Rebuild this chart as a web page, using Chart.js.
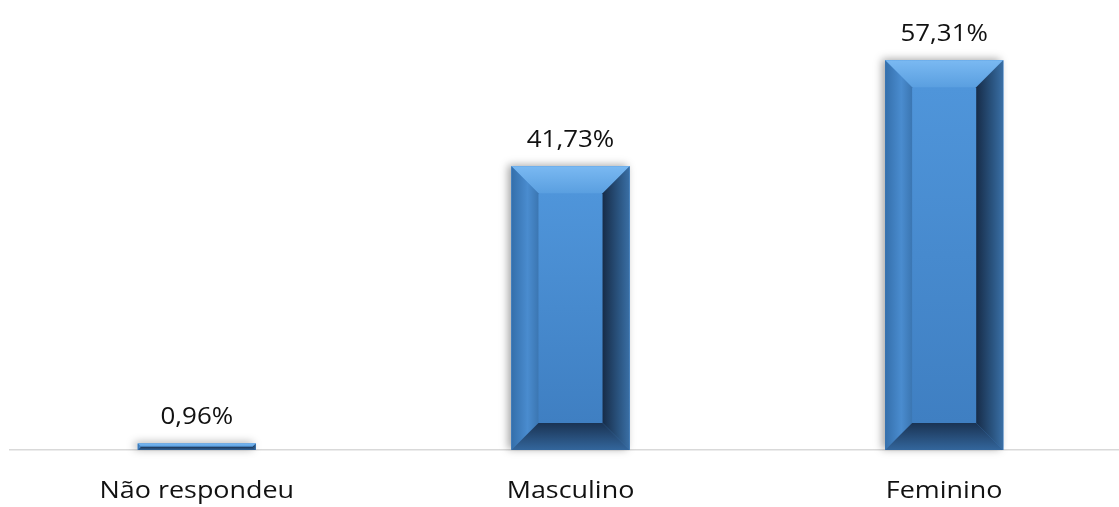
<!DOCTYPE html>
<html>
<head>
<meta charset="utf-8">
<script src="https://cdn.jsdelivr.net/npm/chart.js@4.4.1/dist/chart.umd.min.js"></script>
<style>
html,body{margin:0;padding:0;background:#fff;overflow:hidden;}
#wrap{width:1131px;height:507px;position:relative;}
</style>
</head>
<body>
<div id="wrap"><canvas id="c"></canvas></div>
<script>
const categories = ["Não respondeu", "Masculino", "Feminino"];
const values = [0.96, 41.73, 57.31];
const yMax = 60;

function fmt(v){ return v.toFixed(2).replace('.', ',') + '%'; }

function stretchedText(ctx, text, x, y, font, sx){
  ctx.save();
  ctx.font = font;
  ctx.textAlign = 'center';
  ctx.textBaseline = 'alphabetic';
  ctx.translate(x, y);
  ctx.scale(sx, 1);
  ctx.fillText(text, 0, 0);
  ctx.restore();
}

const shadowPlugin = {
  id: 'shadow',
  beforeDatasetsDraw(chart){
    const ctx = chart.ctx;
    const meta = chart.getDatasetMeta(0);
    ctx.save();
    meta.data.forEach(bar => {
      const x0 = bar.x - bar.width/2;
      ctx.shadowColor = 'rgba(0,0,0,0.35)';
      ctx.shadowBlur = 8;
      ctx.shadowOffsetX = -3;
      ctx.shadowOffsetY = -1;
      ctx.fillStyle = '#4a8fd6';
      ctx.fillRect(x0, bar.y, bar.width, bar.base - bar.y);
    });
    ctx.restore();
  }
};

const bevelPlugin = {
  id: 'bevel',
  afterDatasetsDraw(chart){
    const ctx = chart.ctx;
    const meta = chart.getDatasetMeta(0);
    meta.data.forEach(bar => {
      const x0 = bar.x - bar.width/2, x1 = bar.x + bar.width/2;
      const y0 = bar.y, y1 = bar.base;
      const h = y1 - y0, w = x1 - x0;
      const b = Math.min(27, h/2, w/2);
      const ix0 = x0 + b, ix1 = x1 - b, iy0 = y0 + b, iy1 = y1 - b;
      ctx.save();
      let g = ctx.createLinearGradient(0, iy0, 0, iy1);
      g.addColorStop(0, '#4f95da'); g.addColorStop(1, '#3f7fc2');
      ctx.fillStyle = g; ctx.fillRect(x0, y0, w, h);
      g = ctx.createLinearGradient(0, y0, 0, iy0);
      g.addColorStop(0, '#7ab9f2'); g.addColorStop(1, '#5a9fe0');
      ctx.fillStyle = g;
      ctx.beginPath(); ctx.moveTo(x0,y0); ctx.lineTo(x1,y0); ctx.lineTo(ix1,iy0); ctx.lineTo(ix0,iy0); ctx.closePath(); ctx.fill();
      g = ctx.createLinearGradient(x0, 0, ix0, 0);
      g.addColorStop(0, '#346fab'); g.addColorStop(0.6, '#4a8ccf'); g.addColorStop(1, '#3b76b2');
      ctx.fillStyle = g;
      ctx.beginPath(); ctx.moveTo(x0,y0); ctx.lineTo(ix0,iy0); ctx.lineTo(ix0,iy1); ctx.lineTo(x0,y1); ctx.closePath(); ctx.fill();
      g = ctx.createLinearGradient(ix1, 0, x1, 0);
      g.addColorStop(0, '#172c48'); g.addColorStop(0.6, '#2a5480'); g.addColorStop(1, '#3a6fa5');
      ctx.fillStyle = g;
      ctx.beginPath(); ctx.moveTo(x1,y0); ctx.lineTo(x1,y1); ctx.lineTo(ix1,iy1); ctx.lineTo(ix1,iy0); ctx.closePath(); ctx.fill();
      g = ctx.createLinearGradient(0, iy1, 0, y1);
      g.addColorStop(0, '#1a3353'); g.addColorStop(1, '#33669c');
      ctx.fillStyle = g;
      ctx.beginPath(); ctx.moveTo(x0,y1); ctx.lineTo(x1,y1); ctx.lineTo(ix1,iy1); ctx.lineTo(ix0,iy1); ctx.closePath(); ctx.fill();
      ctx.restore();
    });
  }
};

const textPlugin = {
  id: 'texts',
  afterDraw(chart){
    const ctx = chart.ctx;
    const meta = chart.getDatasetMeta(0);
    const xs = chart.scales.x;
    ctx.save();
    ctx.fillStyle = '#111111';
    meta.data.forEach((bar, i) => {
      stretchedText(ctx, fmt(values[i]), bar.x, bar.y - 19, '24px "Open Sans", sans-serif', 1.08);
    });
    categories.forEach((c, i) => {
      stretchedText(ctx, c, xs.getPixelForValue(i), 498, '23px "Open Sans", sans-serif', 1.17);
    });
    ctx.restore();
  }
};

new Chart(document.getElementById('c'), {
  type: 'bar',
  data: {
    labels: categories,
    datasets: [{
      data: values,
      backgroundColor: '#4a8fd6',
      borderWidth: 0,
      categoryPercentage: 1.0,
      barPercentage: 0.316
    }]
  },
  options: {
    responsive: true,
    maintainAspectRatio: false,
    animation: false,
    layout: { padding: { left: 10, right: 0, top: 42, bottom: 57 } },
    plugins: { legend: { display: false }, tooltip: { enabled: false } },
    scales: {
      x: {
        grid: { display: false, drawTicks: false },
        border: { display: true, color: '#d9d9d9', width: 1.5 },
        ticks: { display: false }
      },
      y: {
        display: false,
        min: 0, max: yMax
      }
    }
  },
  plugins: [shadowPlugin, bevelPlugin, textPlugin]
});
</script>
</body>
</html>
